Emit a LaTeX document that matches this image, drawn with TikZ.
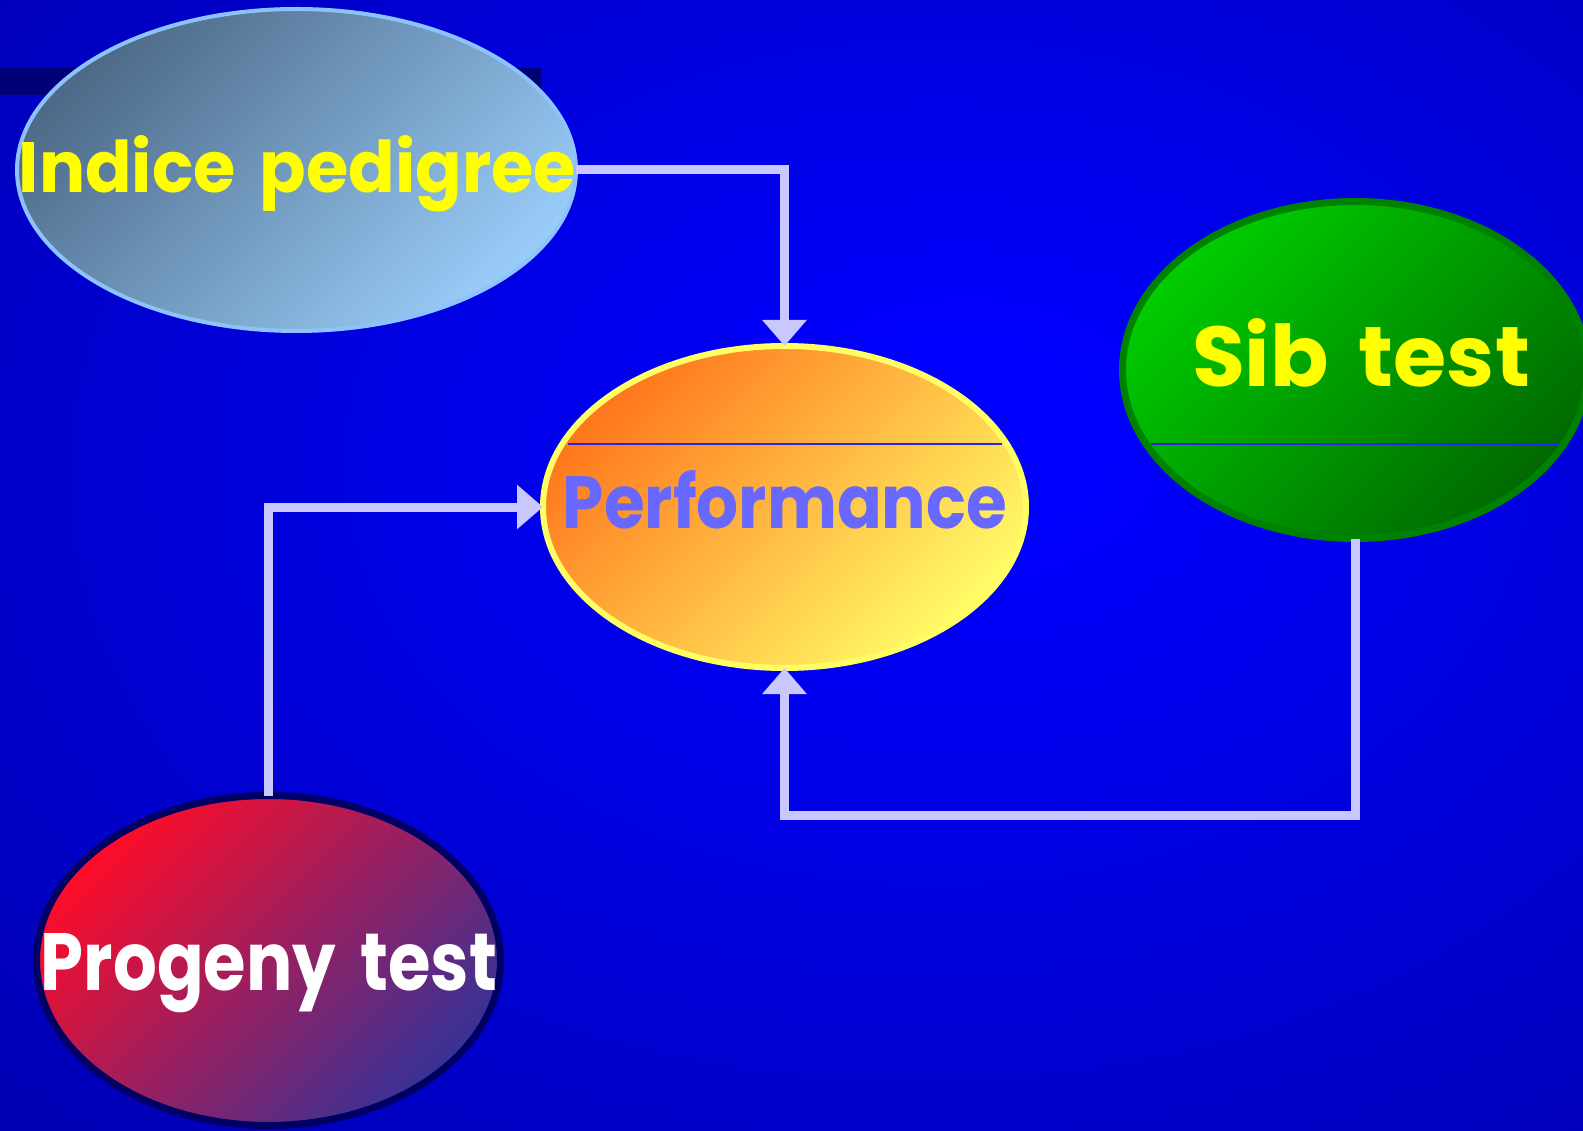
\documentclass[tikz,border=0pt]{standalone}
\usepackage{fontspec}
\usepackage{graphicx}
\usetikzlibrary{shapes.geometric,arrows.meta}
\newfontfamily\comicfont{Poppins}
\definecolor{connc}{RGB}{200,200,255}
\definecolor{barc}{RGB}{0,0,120}
\definecolor{indtl}{RGB}{78,106,136}
\definecolor{indbr}{RGB}{152,204,248}
\definecolor{indbd}{RGB}{140,195,255}
\definecolor{perftl}{RGB}{255,118,28}
\definecolor{perfbr}{RGB}{255,252,104}
\definecolor{perfbd}{RGB}{255,255,100}
\definecolor{perftx}{RGB}{104,104,255}
\definecolor{sibtl}{RGB}{0,205,0}
\definecolor{sibbr}{RGB}{0,105,0}
\definecolor{sibbd}{RGB}{0,130,0}
\definecolor{progtl}{RGB}{255,12,40}
\definecolor{progbr}{RGB}{55,50,150}
\definecolor{progbd}{RGB}{0,0,100}
\definecolor{yel}{RGB}{255,255,0}
\definecolor{sepline}{RGB}{40,40,230}
\pgfdeclareradialshading{bgsh}{\pgfpoint{6bp}{6bp}}{rgb(0bp)=(0,0,1); rgb(4bp)=(0,0,1); rgb(40bp)=(0,0,0.7); rgb(80bp)=(0,0,0.6)}
\tikzset{
  blob/.style={ellipse, inner sep=0pt, outer sep=0pt},
  conn/.style={draw=connc, line width=9pt, -{Triangle[width=43pt,length=26pt]}},
  lbl/.style={anchor=base, inner sep=0pt, font=\comicfont\bfseries},
  sep/.style={draw=sepline, line width=1.2pt}
}
\begin{document}
\begin{tikzpicture}[x=1pt,y=-1pt]
\useasboundingbox (0,0) rectangle (1583,1131);
\clip (0,0) rectangle (1583,1131);
\shade[shading=bgsh] (0,0) rectangle (1583,1131);
\fill[barc] (0,68) rectangle (541,95);
% ellipses
\node[blob, minimum width=559pt, minimum height=322pt, line width=4pt, draw=indbd,
      top color=indtl, bottom color=indbr, shading angle=45] (ind) at (296.5,170) {};
\node[blob, minimum width=483pt, minimum height=322pt, line width=6pt, draw=perfbd,
      top color=perftl, bottom color=perfbr, shading angle=45] (perf) at (784.5,507) {};
\node[blob, minimum width=465pt, minimum height=337pt, line width=7pt, draw=sibbd,
      top color=sibtl, bottom color=sibbr, shading angle=45] (sib) at (1355,370) {};
\node[blob, minimum width=464pt, minimum height=330pt, line width=7pt, draw=progbd,
      top color=progtl, bottom color=progbr, shading angle=45] (prog) at (268.5,960.5) {};
% thin lines inside ellipses
\coordinate (pl1) at (568,444);
\coordinate (pl2) at (1002,444);
\draw[sep] (pl1) -- (pl2);
\coordinate (sl1) at (1151,444);
\coordinate (sl2) at (1559,444);
\draw[sep] (sl1) -- (sl2);
% connectors
\draw[conn] (ind.east) -| (perf.north);
\draw[conn] (prog.north) |- (perf.west);
\coordinate (corner) at (1355,815);
\draw[conn] (sib.south) -- (corner) -| (perf.south);
% labels
\node[lbl, text=yel] (tind) at (297.5,193) {\resizebox{557pt}{57pt}{Indice\hspace{0.35em}pedigree}};
\node[lbl, text=perftx] (tperf) at (785,529) {\resizebox{444pt}{58pt}{Performance}};
\node[lbl, text=yel] (tsib) at (1361,387) {\resizebox{338pt}{68pt}{Sib\hspace{0.35em}test}};
\node[lbl, text=white] (tprog) at (269,990) {\resizebox{456pt}{57pt}{Progeny\hspace{0.35em}test}};
\end{tikzpicture}
\end{document}
